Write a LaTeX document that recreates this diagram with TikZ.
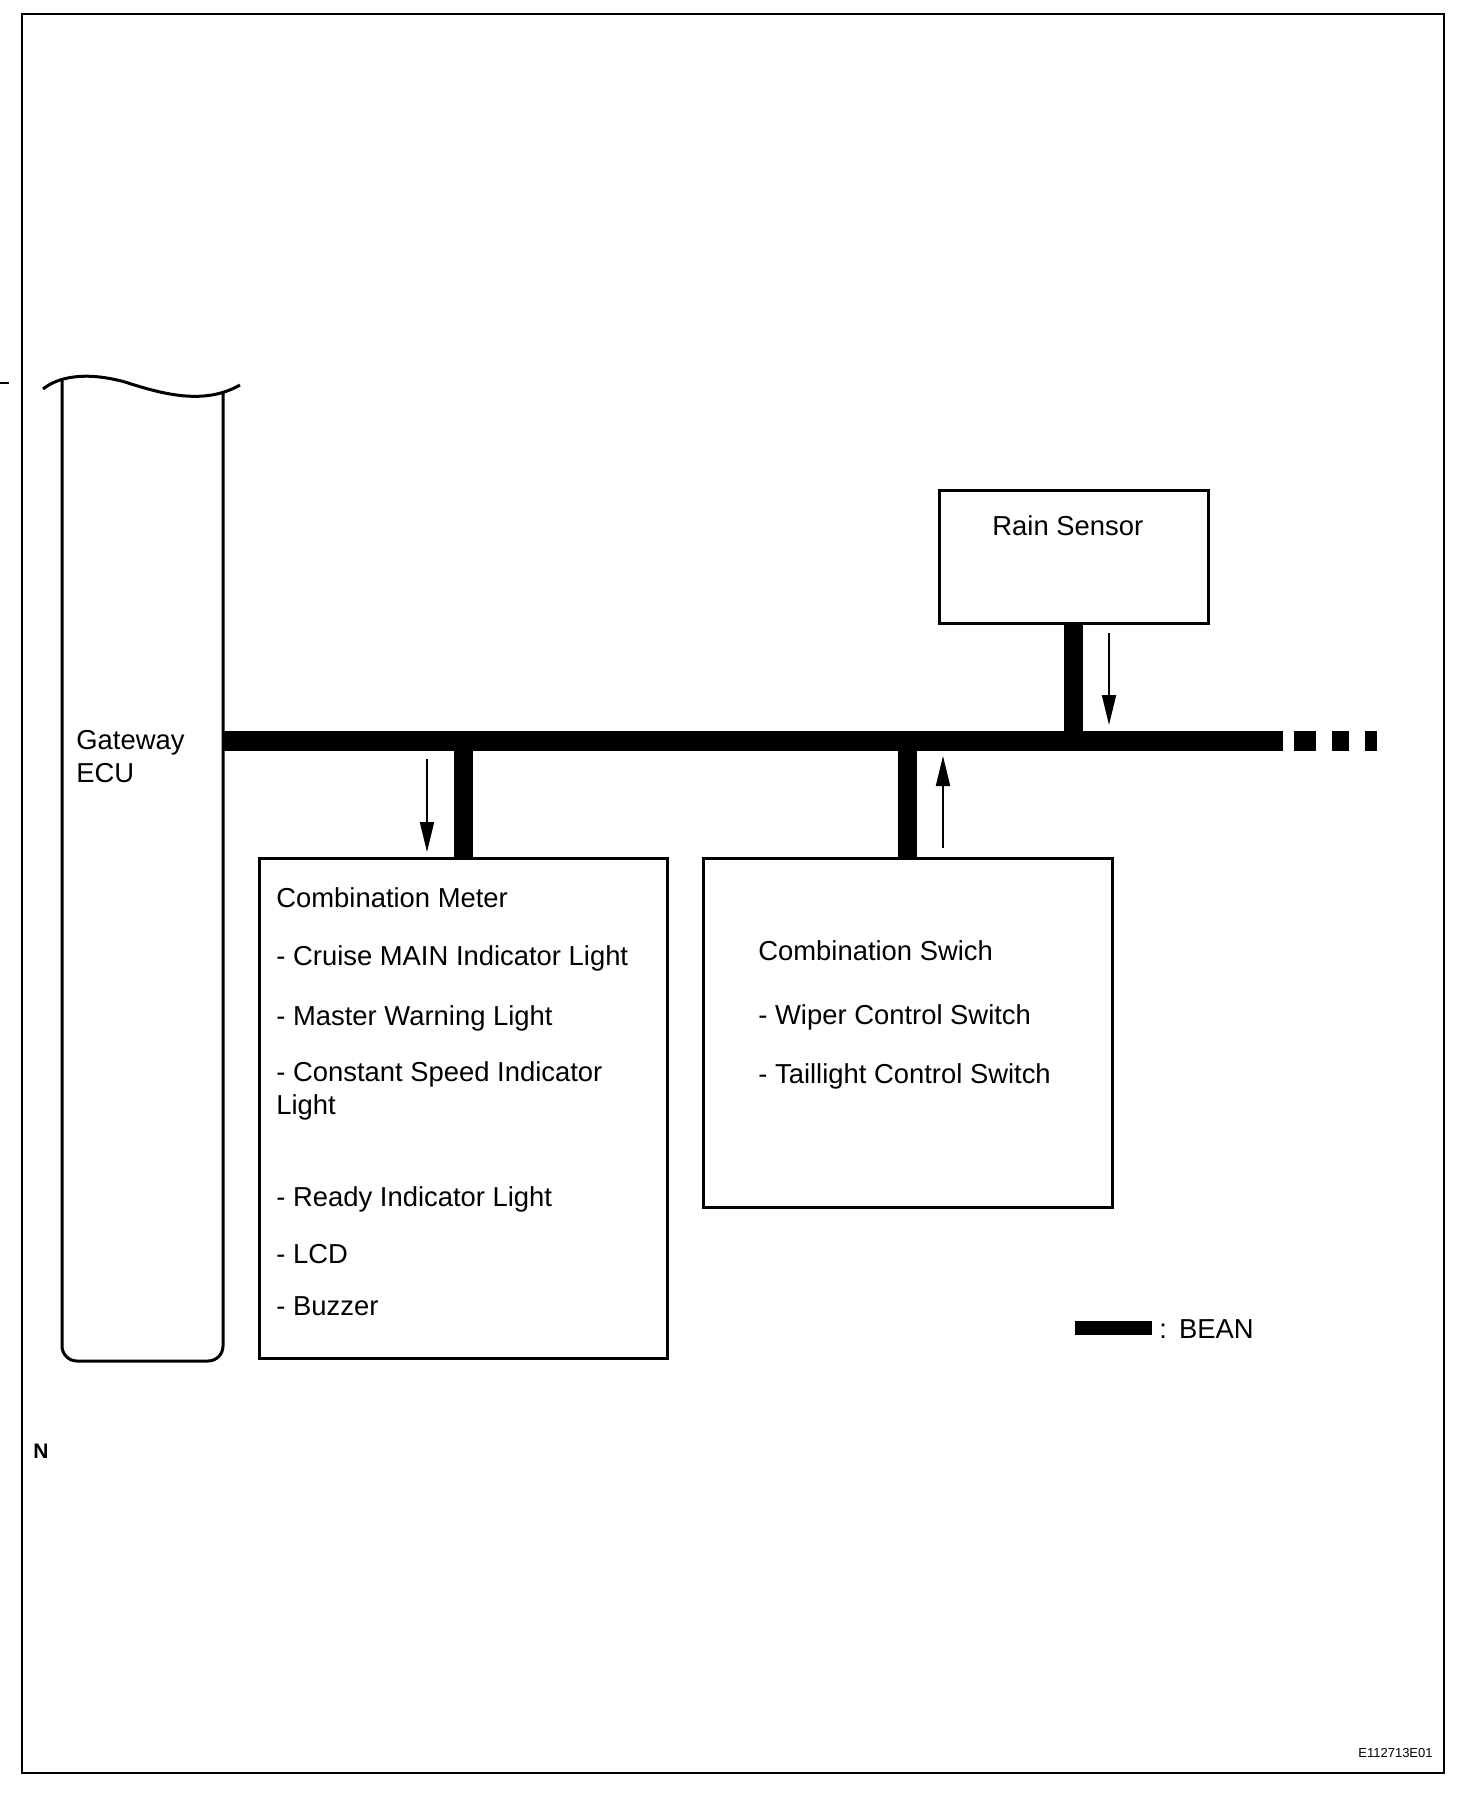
\documentclass[tikz,border=0pt]{standalone}
\usepackage{fontspec}
\setmainfont{Liberation Sans}
\usetikzlibrary{arrows.meta}
\begin{document}
\begin{tikzpicture}[x=0.5pt,y=-0.5pt,
  box/.style={draw, line width=1.5pt, inner sep=0pt, rectangle},
  txt/.style={anchor=base west, inner sep=0pt, font=\fontsize{13.7pt}{16pt}\selectfont},
  bus/.style={line width=10pt},
  stub/.style={line width=9.5pt},
  sig/.style={line width=1pt, -{Triangle[length=15pt,width=7pt]}},
  frame/.style={line width=1pt}]
\useasboundingbox (0,0) rectangle (1472,1794);
% outer frame
\draw[frame] (22,14) rectangle (1444,1773);
\draw[frame] (0,383) -- (9,383);
% Gateway ECU
\draw[line width=1.5pt] (43,389) .. controls (58,377) and (85,371) .. (125,382)
   .. controls (165,395) and (205,405) .. (240,385);
\draw[line width=1.5pt, rounded corners=7.5pt] (62,379) -- (62,1361) -- (223,1361) -- (223,392);
\node[txt] (gw) at (76,749) {Gateway};
\node[txt] (ecu) at (76,782) {ECU};
\coordinate (ecuR) at (223,741);
% boxes
\node[box, minimum width=134.5pt, minimum height=66.5pt] (rain) at (1073.5,556.5) {};
\node[box, minimum width=204pt, minimum height=250pt] (meter) at (463,1108) {};
\node[box, minimum width=204.5pt, minimum height=174.5pt] (sw) at (907.5,1032.5) {};
% texts
\node[txt] (rt) at (992,535) {Rain Sensor};
\node[txt] (m0) at (276,907) {Combination Meter};
\node[txt] (m1) at (276,965) {- Cruise MAIN Indicator Light};
\node[txt] (m2) at (276,1025) {- Master Warning Light};
\node[txt] (m3) at (276,1081) {- Constant Speed Indicator};
\node[txt] (m4) at (276,1114) {Light};
\node[txt] (m5) at (276,1206) {- Ready Indicator Light};
\node[txt] (m6) at (276,1263) {- LCD};
\node[txt] (m7) at (276,1315) {- Buzzer};
\node[txt] (s0) at (758,960) {Combination Swich};
\node[txt] (s1) at (758,1024) {- Wiper Control Switch};
\node[txt] (s2) at (758,1083) {- Taillight Control Switch};
% bus
\coordinate (busE) at (1283,741);
\draw[bus] (ecuR) -- (busE);
\fill (1294,731) rectangle (1316,751);
\fill (1332,731) rectangle (1349,751);
\fill (1365,731) rectangle (1377,751);
% stubs
\draw[stub] (meter.north) -- (meter.north |- busE);
\draw[stub] (sw.north) -- (sw.north |- busE);
\draw[stub] (rain.south) -- (rain.south |- busE);
% signal arrows
\coordinate (a1s) at (427,759); \coordinate (a1e) at (427,852);
\coordinate (a2s) at (943,848); \coordinate (a2e) at (943,756);
\coordinate (a3s) at (1109,633); \coordinate (a3e) at (1109,725);
\draw[sig] (a1s) -- (a1e);
\draw[sig] (a2s) -- (a2e);
\draw[sig] (a3s) -- (a3e);
% legend
\node[fill=black, inner sep=0pt, minimum width=38.5pt, minimum height=7pt] (leg) at (1113.5,1328) {};
\node[txt] (legt) at (1159,1338) {:\hspace{6pt}BEAN};
% labels
\node[anchor=base west, inner sep=0pt, font=\bfseries\fontsize{10.5pt}{12pt}\selectfont] (nl) at (33,1458) {N};
\node[anchor=base west, inner sep=0pt, font=\fontsize{6.5pt}{8pt}\selectfont] (code) at (1358,1757) {E112713E01};
\end{tikzpicture}
\end{document}
